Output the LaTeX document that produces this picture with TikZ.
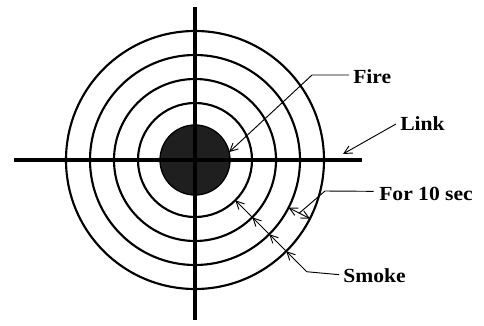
\documentclass[tikz,border=0pt]{standalone}
\usepackage{fontspec}
\setmainfont{Liberation Serif}[FakeStretch=1.08]
\usepackage{tikz}
\usetikzlibrary{arrows.meta,positioning,calc}
\tikzset{
  ring/.style={draw, circle, line width=1.6pt, inner sep=0pt, outer sep=0pt, minimum size=#1},
  axis/.style={line width=2.8pt},
  lead/.style={line width=0.7pt},
  lbl/.style={font=\fontsize{15}{17}\selectfont\bfseries, inner sep=0pt, anchor=west},
}

\begin{document}
\begin{tikzpicture}[x=0.75pt, y=0.75pt, >={Straight Barb[length=6pt, width=6pt]}]
  \useasboundingbox (0,0) rectangle (484,325);
  \coordinate (c) at (195,165);
  % target rings
  \node[ring=193.5pt] (r4) at (c) {};
  \node[ring=157.5pt] (r3) at (c) {};
  \node[ring=121.5pt] (r2) at (c) {};
  \node[ring=85.5pt] (r1) at (c) {};
  \node[ring=52.5pt, fill=black!88, line width=1pt] (fire) at (c) {};
  % cross
  \draw[axis] (14,165) -- (362,165);
  \draw[axis] (195,318) -- (195,5);
  % labels
  \node[lbl] (firelbl) at (353,248) {Fire};
  \node[lbl] (link) at (400,201) {Link};
  \node[lbl] (forsec) at (379,131) {For 10 sec};
  \node[lbl] (smoke) at (343,49) {Smoke};
  % leaders
  \coordinate (firekink) at (312,250);
  \draw[lead, ->] (firelbl.west) ++(-4,2) -- (firekink) -- (fire.13);
  \coordinate (linktip) at (343,171);
  \draw[lead, ->] ([xshift=-3]link.west) -- (linktip);
  \coordinate (gapmid) at ($(r3.-27)!0.5!(r4.-27)$);
  \coordinate (forkink) at (325,134);
  \draw[lead, <->] (r3.-27) -- (r4.-27);
  \draw[lead] ([xshift=-4,yshift=2]forsec.west) -- (forkink) -- (gapmid);
  \coordinate (smokekink) at ($(c)+(-45:158)$);
  \draw[lead] ([xshift=-3,yshift=1]smoke.west) -- (smokekink);
  \draw[lead, ->] (smokekink) -- (r4.-45);
  \draw[lead, ->] (r4.-45) -- (r3.-45);
  \draw[lead, ->] (r3.-45) -- (r2.-45);
  \draw[lead, ->] (r2.-45) -- (r1.-45);
\end{tikzpicture}
\end{document}
